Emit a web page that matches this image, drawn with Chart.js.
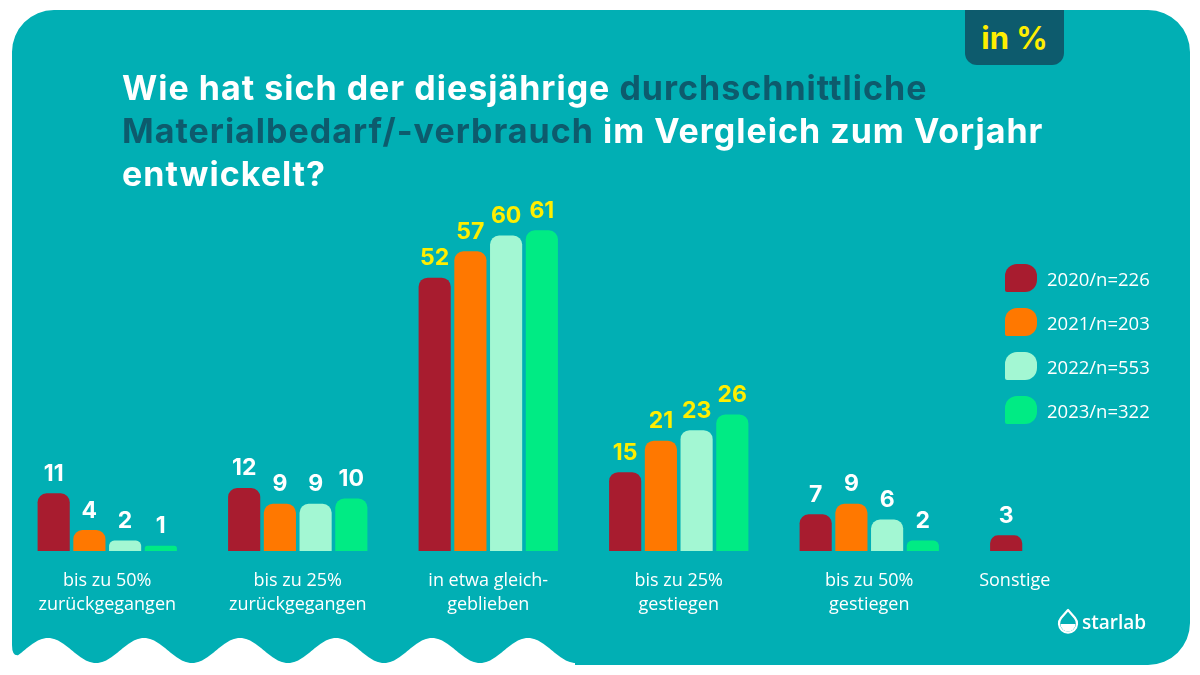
<!DOCTYPE html>
<html lang="de">
<head>
<meta charset="utf-8">
<script src="https://cdn.jsdelivr.net/npm/chart.js@4.4.1/dist/chart.umd.min.js"></script>
<style>
  html, body { margin: 0; padding: 0; background: #fff; }
  #wrap { position: relative; width: 1200px; height: 675px; overflow: hidden; }
  #wrap canvas { position: absolute; left: 0; top: 0; }
  .title {
    position: absolute; left: 122px; top: 66px; width: 1000px;
    font-family: Inter, sans-serif; font-weight: 700; font-size: 34px;
    letter-spacing: 1px; line-height: 43px; color: #fff;
  }
  .title .dark { color: #0d5b6d; }
  .badge {
    position: absolute; left: 965px; top: 10px; width: 99px; height: 55px;
    background: #0d5b6d; border-radius: 0 0 12px 12px;
    color: #ffee00; font-family: Inter, sans-serif; font-weight: 700;
    font-size: 31px; line-height: 55px; text-align: center;
  }
  .legend { position: absolute; left: 1005px; top: 256px; }
  .legend .row { display: flex; align-items: center; height: 44px; }
  .legend .sw { width: 32px; height: 28px; border-radius: 12px 12px 12px 2px; margin-right: 10px; }
  .legend .lbl { color: #fff; font-family: "Open Sans", sans-serif; font-size: 18.5px; }
  .logo { position: absolute; left: 1057px; top: 608px; display: flex; align-items: center; color: #fff;
    font-family: "Open Sans", sans-serif; font-size: 19px; font-weight: 600; }
  .logo svg { margin-right: 3px; }
</style>
</head>
<body>
<div id="wrap">
  <canvas id="canvas" width="1200" height="675"></canvas>
  <div class="title">Wie hat sich der diesjährige <span class="dark">durchschnittliche<br>Materialbedarf/-verbrauch</span> im Vergleich zum Vorjahr<br>entwickelt?</div>
  <div class="badge">in %</div>
  <div class="legend" id="legend"></div>
  <div class="logo">
    <svg width="22" height="28" viewBox="0 0 22 28"><path d="M11 2 L4 10 A9 9 0 1 0 18 10 Z" fill="none" stroke="#fff" stroke-width="2.2" stroke-linejoin="round"/><path d="M3.5 16 A7.5 7.5 0 0 0 18.5 16 Z" fill="#fff"/></svg>
    <span>starlab</span>
  </div>
</div>
<script>
"use strict";

// Kategorien und Werte (in %)
const categories = [
  ['bis zu 50%', 'zurückgegangen'],
  ['bis zu 25%', 'zurückgegangen'],
  ['in etwa gleich-', 'geblieben'],
  ['bis zu 25%', 'gestiegen'],
  ['bis zu 50%', 'gestiegen'],
  'Sonstige'
];
const seriesNames = ['2020/n=226', '2021/n=203', '2022/n=553', '2023/n=322'];
const values2020 = [11, 12, 52, 15, 7, 3];
const values2021 = [4, 9, 57, 21, 9, null];
const values2022 = [2, 9, 60, 23, 6, null];
const values2023 = [1, 10, 61, 26, 2, null];
const colors = ['#a81c2f', '#ff7800', '#a3f7d3', '#00eb84'];

const TEAL = '#01afb4';

// Hintergrundkarte mit Wellenkante
const cardPlugin = {
  id: 'card',
  beforeDraw(chart) {
    const c = chart.ctx;
    const L = 12, R = 1190, T = 10, B = 665, r = 42;
    c.save();
    c.fillStyle = TEAL;
    c.beginPath();
    c.moveTo(L + r, T);
    c.lineTo(R - r, T);
    c.arcTo(R, T, R, T + r, r);
    c.lineTo(R, B - r);
    c.arcTo(R, B, R - r, B, r);
    c.lineTo(575, B);
    for (let x = 575; x >= 18; x -= 1) {
      const y = 650.5 - 12.5 * Math.cos(2 * Math.PI * (x - 48) / 96);
      c.lineTo(x, Math.min(y, B));
    }
    c.quadraticCurveTo(L, 656, L, 645);
    c.lineTo(L, T + r);
    c.arcTo(L, T, L + r, T, r);
    c.closePath();
    c.fill();
    c.restore();
  }
};

// Werte über den Balken
const valuePlugin = {
  id: 'values',
  afterDatasetsDraw(chart) {
    const c = chart.ctx;
    c.save();
    c.font = '700 23px Inter, sans-serif';
    c.textAlign = 'center';
    c.textBaseline = 'bottom';
    chart.data.datasets.forEach((ds, di) => {
      chart.getDatasetMeta(di).data.forEach((bar, i) => {
        const v = ds.data[i];
        if (v == null) return;
        c.fillStyle = (i === 2 || i === 3) ? '#ffee00' : '#ffffff';
        c.fillText(String(v), bar.x, bar.y - 8);
      });
    });
    c.restore();
  }
};

const allValues = [values2020, values2021, values2022, values2023];

const canvas = document.getElementById('canvas');
const ctx = canvas.getContext('2d');

let myChart = new Chart(ctx, {
  type: 'bar',
  data: {
    labels: categories,
    datasets: allValues.map((vals, i) => ({
      label: seriesNames[i],
      data: vals,
      backgroundColor: colors[i],
      borderRadius: { topLeft: 9, topRight: 9 },
      borderSkipped: 'bottom',
      categoryPercentage: 0.75,
      barPercentage: 0.9
    }))
  },
  options: {
    responsive: false,
    animation: false,
    layout: { padding: { left: 12, right: 45, top: 183, bottom: 48 } },
    plugins: { legend: { display: false }, tooltip: { enabled: false } },
    scales: {
      y: { display: false, min: 0, max: 70 },
      x: {
        grid: { display: false },
        border: { display: false },
        ticks: {
          color: '#ffffff',
          padding: 10,
          font: { family: '"Open Sans", sans-serif', size: 18, lineHeight: 1.33 },
          maxRotation: 0,
          autoSkip: false,
          callback(value, index) {
            const l = categories[index];
            // Beschriftung "Sonstige" etwas nach links gesetzt wie im Original
            return typeof l === 'string' ? l + '\u2003\u2003\u2003\u2003\u2003' : l;
          }
        }
      }
    }
  },
  plugins: [cardPlugin, valuePlugin]
});

// Legende
const legendEl = document.getElementById('legend');
seriesNames.forEach((name, i) => {
  const row = document.createElement('div');
  row.className = 'row';
  row.innerHTML = '<div class="sw" style="background:' + colors[i] + '"></div><div class="lbl">' + name + '</div>';
  legendEl.appendChild(row);
});
</script>
</body>
</html>
